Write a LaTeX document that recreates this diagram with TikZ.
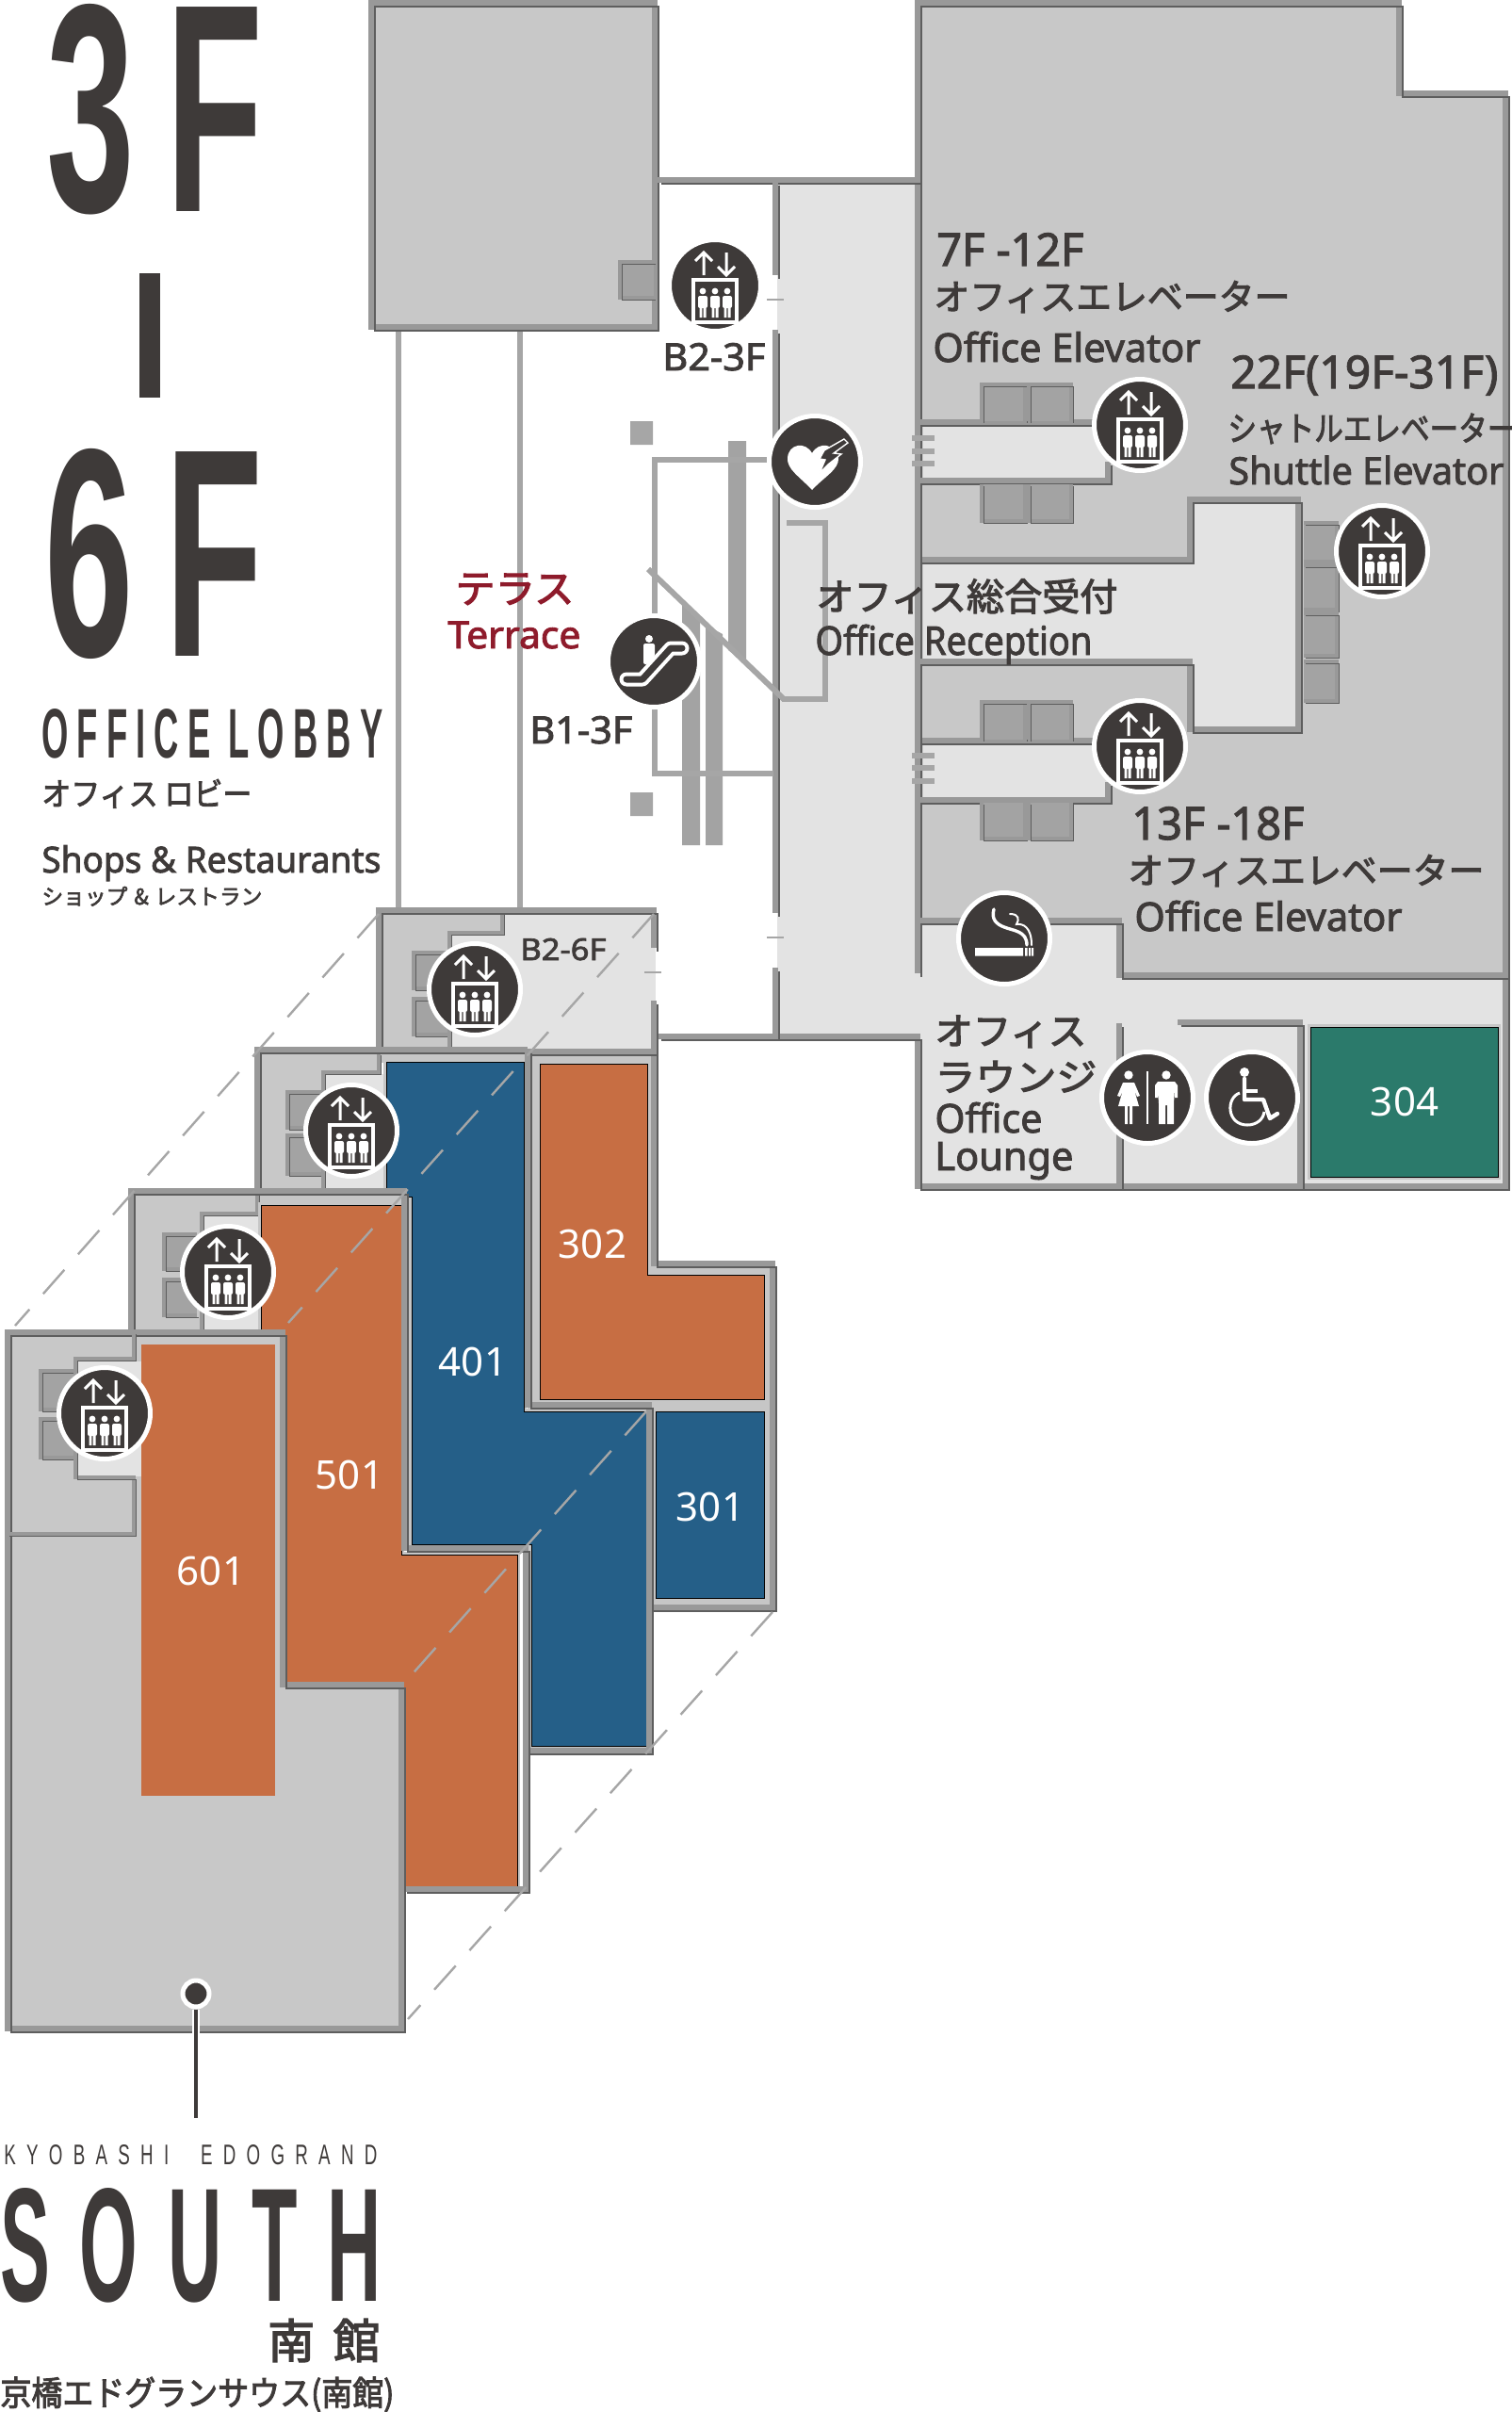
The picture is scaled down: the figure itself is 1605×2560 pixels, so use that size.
\documentclass[tikz,border=0pt]{standalone}
\usepackage{graphicx}
\usepackage{fontspec}
\setmainfont{Noto Sans}[FakeBold=2.2]
\newfontfamily\plainf{Noto Sans}
\newfontfamily\jp{Noto Sans CJK JP}[FakeBold=2.8]
\newfontfamily\cond{Liberation Sans}
\definecolor{ink}{HTML}{3E3A39}
\definecolor{wallc}{HTML}{999999}
\definecolor{walld}{HTML}{5E5E5E}
\definecolor{grayf}{HTML}{C8C8C8}
\definecolor{lightf}{HTML}{E3E3E3}
\definecolor{thinc}{HTML}{A6A6A6}
\definecolor{doorf}{HTML}{A3A3A3}
\definecolor{rimc}{HTML}{C6C6C6}
\definecolor{orangef}{HTML}{C76E43}
\definecolor{bluef}{HTML}{255F88}
\definecolor{greenf}{HTML}{2B7A6B}
\definecolor{redt}{HTML}{8E1B2B}
\newcommand\fw[2]{\resizebox{\dimexpr#1pt/2\relax}{\height}{#2}}
\newcommand\fwh[3]{\resizebox{\dimexpr#1pt/2\relax}{\dimexpr#2pt/2\relax}{#3}}
\newcommand\fs[1]{\fontsize{#1}{#1}\selectfont}
\tikzset{
 wall/.style={draw=wallc,line width=3pt,miter limit=10,
   postaction={draw=walld,line width=1.1pt,transform canvas={xshift=1.8pt,yshift=-1.8pt}}},
 thinwall/.style={draw=wallc,line width=2pt,
   postaction={draw=walld,line width=.9pt,transform canvas={xshift=1.2pt,yshift=-1.2pt}}},
 lineg/.style={draw=thinc,line width=2.6pt},
 tick/.style={draw=thinc,line width=1pt},
 guide/.style={draw=thinc,line width=1.2pt,dash pattern=on 17pt off 11pt},
 lbl/.style={anchor=base west,inner sep=0pt,text=ink},
 cf/.style={font=\cond},
 jf/.style={font=\jp},
 rooml/.style={anchor=center,inner sep=0pt,text=white,font=\plainf\fs{21}},
 unit/.style={preaction={draw=rimc,line width=3pt}},
 icondisc/.style={circle,fill=ink,draw=white,line width=2.5pt,minimum size=48.5pt,inner sep=0pt},
 elev/.pic={
  \draw[white,line width=1.7pt] (-23,-6) rectangle (23,39);
  \draw[white,line width=1.5pt] (-12,-11)--(-12,-35) (-21,-26)--(-12,-35)--(-3,-26);
  \draw[white,line width=1.5pt] (12,-35)--(12,-11) (3,-20)--(12,-11)--(21,-20);
  \foreach \q in {-13,0,13}{
   \fill[white] (\q,6) circle[radius=3.4];
   \fill[white,rounded corners=1pt] ({\q-5},11) rectangle ({\q+5},24);
   \fill[white] ({\q-3.5},24) rectangle ({\q-0.6},34) ({\q+0.6},24) rectangle ({\q+3.5},34);
  }
 },
 escal/.pic={
  \draw[white,line width=7.5pt,line join=round,line cap=round] (-29,19)--(-12,19)--(18,-14)--(30,-14);
  \draw[ink,line width=3.5pt,line join=round,line cap=round] (-29,19)--(-12,19)--(18,-14)--(30,-14);
  \fill[white] (-5,-24) circle[radius=4];
  \fill[white,rounded corners=1pt] (-11,-19)--(1,-19)--(1,-5)--(-6,3)--(-11,3)--cycle;
 },
 aedic/.pic={
  \fill[white] (-3,30) .. controls (-16,16) and (-30,8) .. (-29,-4) .. controls (-28,-19) and (-10,-22) .. (-3,-9) .. controls (4,-22) and (22,-19) .. (25,-4) .. controls (26,8) and (10,16) .. (-3,30);
  \draw[white,fill=ink,line width=.7pt,line join=miter] (10,-12)--(31,-24)--(35,-20)--(20,-9)--(28,-8)--(14,3)--(5,12)--(11,-2)--(5,-3)--cycle;
 },
 smokeic/.pic={
  \fill[white] (-31,10) rectangle (20,18.5) (22,10) rectangle (24.5,18.5) (26,10) rectangle (28,18.5) (29,10) rectangle (31,18.5);
  \draw[white,line width=1.7pt,line cap=round] (-11,-31) .. controls (-14,-20) and (-8,-15) .. (0,-12) .. controls (10,-8) and (24,-8) .. (24,7);
  \draw[white,line width=1pt,line cap=round] (6,-26) .. controls (16,-26) and (16,-20) .. (13,-15) .. controls (20,-16) and (29,-12) .. (29,7);
 },
 toilic/.pic={
  \draw[white,line width=1.2pt] (0,-28)--(0,28);
  \fill[white] (-20,-24) circle[radius=4.7] (20,-24) circle[radius=4.7];
  \fill[white] (-26,-16)--(-14,-16)--(-8,-2)--(-11,-1)--(-14,-8)--(-9,9)--(-31,9)--(-26,-8)--(-29,-1)--(-32,-2)--cycle;
  \fill[white] (-24,9) rectangle (-21,28) (-19,9) rectangle (-16,28);
  \fill[white] (11,-17)--(29,-17)--(32,-13)--(32,0)--(29,0)--(29,-9)--(28,6)--(28,28)--(21,28)--(21,8)--(19,8)--(19,28)--(12,28)--(12,6)--(11,-9)--(11,0)--(8,0)--(8,-13)--cycle;
 },
 wheelic/.pic={
  \fill[white] (-8,-27) circle[radius=5];
  \draw[white,line width=2.2pt,line cap=round,line join=round] (-8,-20)--(-8,2)--(12,2)--(19,22)--(27,17);
  \draw[white,line width=1.6pt] (-8,-7)--(6,-7);
  \draw[white,line width=1.5pt] (-13,-5) .. controls (-28,0) and (-27,29) .. (-5,29) .. controls (5,29) and (12,23) .. (13,15);
 },
}
\newcommand\doorL[4]{\fill[doorf] (#1,#2) rectangle (#3,#4);\draw[thinwall] (#3,#2)--(#1,#2)--(#1,#4)--(#3,#4);}
\newcommand\doorU[4]{\fill[doorf] (#1,#2) rectangle (#3,#4);\draw[thinwall] (#1,#4)--(#1,#2)--(#3,#2)--(#3,#4);}
\newcommand\doorD[4]{\fill[doorf] (#1,#2) rectangle (#3,#4);\draw[thinwall] (#1,#2)--(#1,#4)--(#3,#4)--(#3,#2);}
\newcommand\doorR[4]{\fill[doorf] (#1,#2) rectangle (#3,#4);\draw[thinwall] (#1,#2)--(#3,#2)--(#3,#4)--(#1,#4);}
\begin{document}
\begin{tikzpicture}[x=0.5pt,y=-0.5pt]
\useasboundingbox (0,0) rectangle (1605,2560);
\clip (0,0) rectangle (1605,2560);
% north-west block
\draw[wall,fill=grayf] (394,3) rectangle (695,347);
\doorL{658}{278}{694}{316}
% columns
\draw[lineg,line width=3pt] (423,352)--(423,968) (552,352)--(552,968);
% main light area
\fill[lightf] (825,193) -- (980,193) -- (980,1102) -- (825,1102) -- cycle;
% main gray
\draw[wall,fill=grayf] (974,1033)--(974,3)--(1485,3)--(1485,99)--(1598,99)--(1598,1036)--(1190,1036);
\fill[lightf] (977,1034) rectangle (1192,1100);
\fill[lightf] (980,450) rectangle (1178,510);
\fill[lightf] (980,596)--(1265,596)--(1265,530)--(1380,530)--(1380,776)--(1265,776)--(1265,702)--(980,702)--cycle;
\fill[lightf] (980,788) rectangle (1178,849);
\fill[lightf] (972,978)--(1190,978)--(1190,1037)--(1597,1037)--(1597,1259)--(972,1259)--cycle;
\draw[wall] (974,448)--(1165,448);
\draw[wall] (974,510)--(1176,510)--(1176,490);
\draw[wall] (974,510)--(974,594)--(1263,594)--(1263,530)--(1378,530)--(1378,774)--(1263,774)--(1263,702)--(974,702)--(974,786)--(1165,786);
\draw[wall] (974,849)--(1176,849)--(1176,830);
\draw[wall] (974,849)--(974,1033);
\draw[wall] (974,977)--(1188,977)--(1188,1035)--(1598,1035)--(1598,1259)--(974,1259)--(974,1100)--(698,1100);
\draw[wall] (1188,1259)--(1188,1086);
\draw[wall] (1250,1085)--(1380,1085)--(1380,1259);
\draw[wall] (698,191)--(974,191);
\draw[wall] (823,193)--(823,292) (823,350)--(823,969) (823,1027)--(823,1100);
\draw[tick] (814,318)--(832,318) (814,995)--(832,995);
% green room
\draw[unit,fill=greenf] (1391,1090) rectangle (1590,1249);
\node[rooml] (r304) at (1491,1169) {304};
% elevator doors
\doorU{1042}{408}{1088}{447}\doorU{1092}{408}{1137}{447}
\doorD{1042}{514}{1088}{553}\doorD{1092}{514}{1137}{553}
\doorU{1042}{745}{1088}{785}\doorU{1092}{745}{1137}{785}
\doorD{1042}{852}{1088}{890}\doorD{1092}{852}{1137}{890}
\doorR{1384}{555}{1419}{596}\doorR{1384}{600}{1419}{647}\doorR{1384}{651}{1419}{696}\doorR{1384}{702}{1419}{744}
% stair marks
\draw[lineg,line width=2.6pt] (968,465)--(992,465) (968,479)--(992,479) (968,492)--(992,492) (968,802)--(992,802) (968,815)--(992,815) (968,829)--(992,829);
% atrium
\fill[thinc] (669,447) rectangle (693,472) (669,841) rectangle (693,866);
\fill[doorf] (773,468)--(792,468)--(792,702)--(773,690)--cycle;
\fill[doorf] (724,641)--(743,653)--(743,897)--(724,897)--cycle;
\fill[doorf] (749,663)--(767,673)--(767,897)--(749,897)--cycle;
\draw[lineg] (825,488)--(695,488)--(695,821)--(821,821);
\draw[lineg,line width=3pt] (688,604)--(832,742);
\draw[lineg] (835,555)--(876,555)--(876,742)--(830,742);
% layer 3
\fill[lightf] (402,968) rectangle (696,1118);
\fill[grayf] (402,968) rectangle (533,990) (402,968) rectangle (477,1118);
\fill[rimc] (562,1118)--(694,1118)--(694,1343)--(820,1343)--(820,1706)--(691,1706)--(691,1491)--(562,1491)--cycle;
\doorL{439}{1011}{477}{1049}\doorL{439}{1060}{477}{1098}
\draw[thinwall] (533,968)--(533,990)--(477,990)--(477,1118);
\draw[wall] (694,1006)--(694,966)--(402,966)--(402,1116);
\draw[wall] (694,1062)--(694,1341)--(820,1341)--(820,1706)--(689,1706)--(689,1491)--(560,1491)--(560,1116)--(694,1116);
\draw[tick] (684,1032)--(702,1032);
\draw[unit,fill=orangef] (573,1129)--(687,1129)--(687,1353)--(811,1353)--(811,1485)--(573,1485)--cycle;
\draw[unit,fill=bluef] (696,1498) rectangle (811,1696);
\node[rooml] (r302) at (629,1320) {302};
\node[rooml] (r301) at (754,1599) {301};
% layer 4
\fill[grayf] (273,1116) rectangle (402,1140) (273,1116) rectangle (343,1264);
\fill[lightf] (343,1140) rectangle (410,1264);
\fill[rimc] (402,1116) rectangle (560,1128);
\fill[rimc] (556,1128) rectangle (560,1491);
\fill[rimc] (560,1491) rectangle (689,1498) (686,1498) rectangle (689,1858);
\doorL{305}{1159}{343}{1197}\doorL{305}{1205}{343}{1246}
\draw[thinwall] (402,1118)--(402,1138)--(343,1138)--(343,1264);
\draw[unit,fill=bluef] (410,1127)--(556,1127)--(556,1498)--(686,1498)--(686,1853)--(564,1853)--(564,1639)--(437,1639)--(437,1270)--(410,1270)--cycle;
\draw[wall] (273,1264)--(273,1114)--(560,1114);
\draw[wall] (560,1114)--(560,1491)--(689,1491)--(689,1858)--(558,1858);
\node[rooml] (r401) at (502,1445) {401};
% layer 5
\fill[grayf] (139,1266) rectangle (277,1414);
\fill[lightf] (214,1290) rectangle (280,1412);
\fill[rimc] (273,1264) rectangle (429,1280);
\doorL{174}{1310}{209}{1347}\doorL{174}{1358}{209}{1396}
\draw[thinwall] (273,1266)--(273,1288)--(214,1288)--(214,1414);
\draw[unit,fill=orangef] (277,1279)--(426,1279)--(426,1650)--(549,1650)--(549,2002)--(300,2002)--(300,1420)--(277,1420)--cycle;
\draw[wall] (139,1414)--(139,1264)--(429,1264)--(429,1643)--(558,1643)--(558,2005)--(428,2005);
\node[rooml] (r501) at (371,1565) {501};
% guides
\draw[guide] (402,970)--(16,1407);
\draw[guide] (694,970)--(306,1404);
\draw[guide] (686,1498)--(433,1782);
\draw[guide] (820,1711)--(433,2143);
% layer 6
\draw[wall,fill=grayf] (8,1414)--(300,1414)--(300,1788)--(426,1788)--(426,2153)--(8,2153)--cycle;
\fill[lightf] (80,1445) rectangle (150,1567);
\fill[orangef] (150,1427) rectangle (292,1906);
\doorL{43}{1455}{80}{1496}\doorL{43}{1506}{80}{1547}
\draw[thinwall] (142,1414)--(142,1442)--(80,1442)--(80,1568)--(142,1568)--(142,1628)--(8,1628);
\node[rooml] (r601) at (224,1667) {601};
% leader
\node[circle,fill=ink,draw=white,line width=2.5pt,minimum size=14pt,inner sep=0pt] (dot) at (208,2116) {};
\coordinate (leadend) at (208,2248);
\coordinate (leadwall) at (208,2160);
\draw[white,line width=4pt] (dot)--(leadwall);
\draw[ink,line width=2pt] (dot)--(leadend);
% icons
\foreach \nm/\xx/\yy in {ea/759/303,eb/1210/451,ec/1467/585,ed/1210/792,ee/504/1050,ef/373/1200,eg/242/1350,eh/111/1500}{
 \node[icondisc] (\nm) at (\xx,\yy) {};
 \pic at (\xx,\yy) {elev};
}
\node[icondisc] (aedn) at (865,490) {}; \pic at (865,490) {aedic};
\node[icondisc] (escn) at (694,702) {}; \pic at (694,702) {escal};
\node[icondisc] (smk) at (1066,996) {}; \pic at (1066,996) {smokeic};
\node[icondisc] (wcn) at (1218,1165) {}; \pic at (1218,1165) {toilic};
\node[icondisc] (whl) at (1329,1165) {}; \pic at (1329,1165) {wheelic};
% headings
\node[lbl,cf] (t3f) at (49,224) {\bfseries\fwh{230}{220}{3\kern.2em F}};
\fill[ink] (148,290) rectangle (170,422);
\node[lbl,cf] (t6f) at (47,696) {\bfseries\fwh{232}{220}{6\kern.2em F}};
\node[lbl,cf] (tlobby) at (44,804) {\fwh{362}{52}{\bfseries\addfontfeature{LetterSpace=25}OFFICE LOBBY}};
\node[lbl,jf] (tlobbyj) at (44,855) {\fw{223}{\fs{17}オフィス ロビー}};
\node[lbl] (tshops) at (44,926) {\fw{360}{\fs{19}Shops \& Restaurants}};
\node[lbl,jf] (tshopsj) at (44,960) {\fw{234}{\fs{11.5}ショップ\kern.3em\&\kern.3em レストラン}};
% map labels
\node[lbl,jf,text=redt] (tterj) at (483,640) {\fw{126}{\fs{21}テラス}};
\node[lbl,text=redt] (tter) at (475,688) {\fw{141}{\fs{20}Terrace}};
\node[lbl] (tb23) at (703,393) {\fw{109}{\fs{20}B2-3F}};
\node[lbl] (tb13) at (562,789) {\fw{109}{\fs{20}B1-3F}};
\node[lbl] (tb26) at (552,1019) {\fw{91}{\fs{16}B2-6F}};
\node[lbl] (t712) at (994,282) {\fw{156}{\fs{24}7F -12F}};
\node[lbl,jf] (t712j) at (991,329) {\fw{378}{\fs{19}オフィスエレベーター}};
\node[lbl] (t712e) at (990,384) {\fw{284}{\fs{21}Office Elevator}};
\node[lbl] (t22) at (1306,412) {\fw{284}{\fs{24}22F(19F-31F)}};
\node[lbl,jf] (t22j) at (1303,468) {\fw{306}{\fs{18}シャトルエレベーター}};
\node[lbl] (t22e) at (1304,514) {\fw{292}{\fs{20}Shuttle Elevator}};
\node[lbl,jf] (trecj) at (866,648) {\fw{320}{\fs{20}オフィス総合受付}};
\node[lbl] (trec) at (865,695) {\fw{294}{\fs{21}Office Reception}};
\node[lbl] (t13) at (1201,891) {\fw{183}{\fs{24}13F -18F}};
\node[lbl,jf] (t13j) at (1197,938) {\fw{378}{\fs{19}オフィスエレベーター}};
\node[lbl] (t13e) at (1204,988) {\fw{284}{\fs{21}Office Elevator}};
\node[lbl,jf] (tl1) at (992,1109) {\fw{161}{\fs{20}オフィス}};
\node[lbl,jf] (tl2) at (992,1158) {\fw{172}{\fs{20}ラウンジ}};
\node[lbl] (tl3) at (992,1202) {\fw{114}{\fs{21}Office}};
\node[lbl] (tl4) at (992,1242) {\fw{147}{\fs{21}Lounge}};
% footer
\node[lbl,cf] (tkyo) at (4,2297) {\fwh{396}{21}{\addfontfeature{LetterSpace=60}KYOBASHI\kern1.8em EDOGRAND}};
\node[lbl,cf] (tsouth) at (0,2442) {\bfseries\fwh{404}{120}{S\kern.4em O\kern.4em U\kern.4em T\kern.4em H}};
\node[lbl,jf] (tminami) at (284,2503) {\fw{119}{\fs{25}南\kern.4em 館}};
\node[lbl,jf] (tfoot) at (0,2553) {\fw{418}{\fs{18}京橋エドグランサウス(南館)}};
\end{tikzpicture}
\end{document}
